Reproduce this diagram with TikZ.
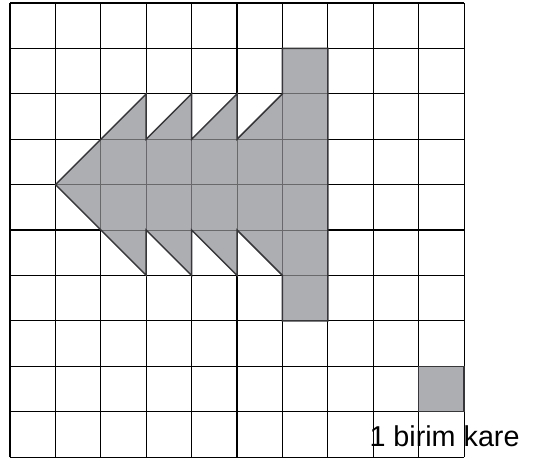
\documentclass[tikz,border=0pt]{standalone}
\usepackage{fontspec}
\setmainfont{Liberation Sans}
\usepackage{xcolor}
\usepackage{tikz}

\definecolor{shapegray}{RGB}{173,174,178}
\definecolor{edgegray}{RGB}{55,55,58}
\definecolor{innergray}{RGB}{105,105,108}

\newcommand{\figpath}{(1,6) -- (3,8) -- (3,7) -- (4,8) -- (4,7) -- (5,8) -- (5,7) -- (6,8)
  -- (6,9) -- (7,9) -- (7,3) -- (6,3) -- (6,4) -- (5,5) -- (5,4)
  -- (4,5) -- (4,4) -- (3,5) -- (3,4) -- cycle}

\begin{document}
\begin{tikzpicture}[
        gridline/.style={line width=0.7pt, black},
        innerline/.style={line width=0.6pt, innergray},
        outline/.style={draw=edgegray, line width=0.9pt},
        figure/.style={fill=shapegray, outline},
        label/.style={inner sep=0pt, anchor=base, font=\fontsize{18}{21}\selectfont}
      ]

      \useasboundingbox (-0.22,-0.088) rectangle (11.54,10.066);

      % grid
      \draw[gridline] (0,0) grid (10,10);

      % arrow-like figure
      \fill[shapegray] \figpath;
      \begin{scope}
        \clip \figpath;
        \draw[innerline] (0,0) grid (10,10);
      \end{scope}
      \draw[outline] \figpath;

      % unit square
      \path[figure] (9,1) rectangle (10,2);
      \node[label] (unit) at (9.57,0.23) {1 birim kare};

    \end{tikzpicture}
\end{document}
